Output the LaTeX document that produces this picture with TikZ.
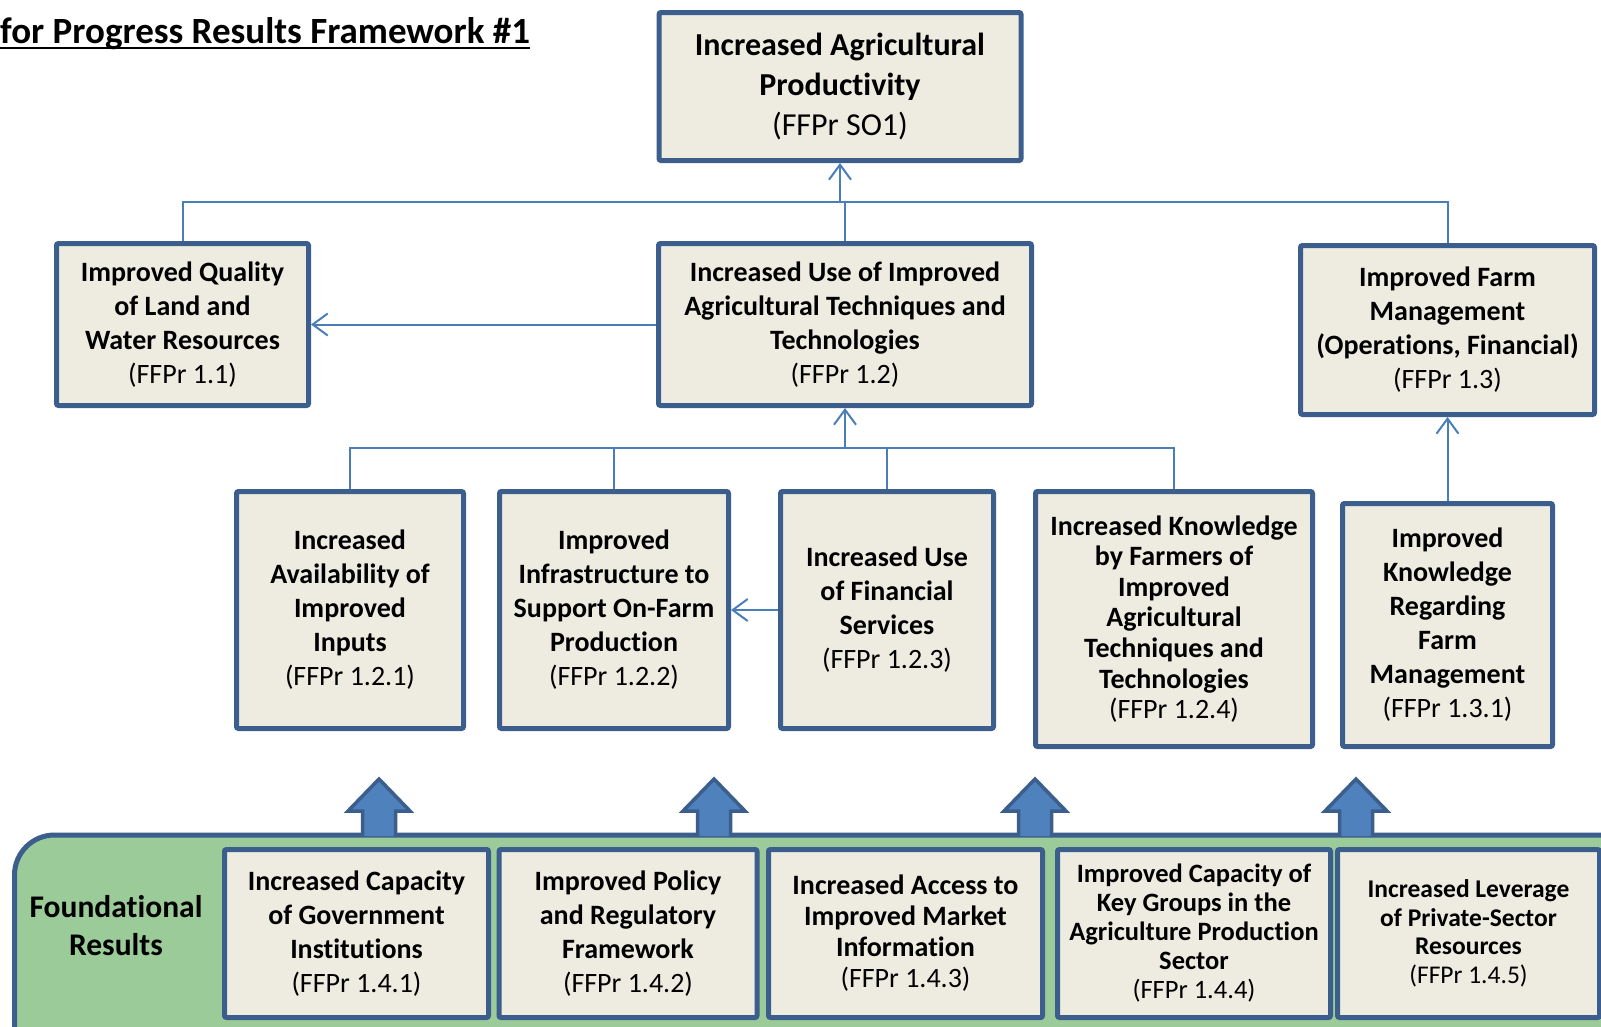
\documentclass[tikz,border=0pt]{standalone}
\usepackage{fontspec}
\setmainfont[Ligatures={NoCommon}]{Carlito}
\usetikzlibrary{arrows.meta}
\definecolor{boxfill}{HTML}{EEECE1}
\definecolor{boxline}{HTML}{3B5E8C}
\definecolor{connc}{HTML}{4A7EBB}
\definecolor{fatfill}{HTML}{4F81BD}
\definecolor{greenfill}{HTML}{9BCB98}
\begin{document}
\begin{tikzpicture}[x=1pt,y=-1pt,
  box/.style={draw=boxline, line width=5pt, fill=boxfill, rounded corners=2pt, inner sep=0pt, align=center, font=\fontsize{28}{34}\selectfont},
  link/.style={draw=connc, line width=2pt},
  arr/.style={link, -{Straight Barb[length=15pt,width=22pt]}},
  fat/.style={draw=boxline, line width=3.5pt, line join=miter}
]
\useasboundingbox (0,0) rectangle (1601,1026);
\clip (0,0) rectangle (1601,1026);

% title
\node[anchor=base west, inner sep=0pt, font=\fontsize{37}{42}\selectfont\bfseries] (title) at (0,43) {for Progress Results Framework \#1};
\draw[line width=2pt] ([yshift=-4.5pt]title.base west) -- ([yshift=-4.5pt]title.base east);

% top level
\node[box, minimum width=362pt, minimum height=148pt, font=\fontsize{32}{40}\selectfont] (so1) at (840,86.5)
  {\textbf{Increased Agricultural}\\\textbf{Productivity}\\(FFPr SO1)};

% second level
\node[box, minimum width=252pt, minimum height=162pt] (b11) at (182.5,324.5)
  {\textbf{Improved Quality}\\\textbf{of Land and}\\\textbf{Water Resources}\\(FFPr 1.1)};
\node[box, minimum width=373pt, minimum height=162pt] (b12) at (845,324.5)
  {\textbf{Increased Use of Improved}\\\textbf{Agricultural Techniques and}\\\textbf{Technologies}\\(FFPr 1.2)};
\node[box, minimum width=294pt, minimum height=169pt] (b13) at (1447.5,330)
  {\textbf{Improved Farm}\\\textbf{Management}\\\textbf{(Operations, Financial)}\\(FFPr 1.3)};

% third level
\node[box, minimum width=227pt, minimum height=237pt] (b121) at (350,610)
  {\textbf{Increased}\\\textbf{Availability of}\\\textbf{Improved}\\\textbf{Inputs}\\(FFPr 1.2.1)};
\node[box, minimum width=229pt, minimum height=237pt] (b122) at (614,610)
  {\textbf{Improved}\\\textbf{Infrastructure to}\\\textbf{Support On-Farm}\\\textbf{Production}\\(FFPr 1.2.2)};
\node[box, minimum width=213pt, minimum height=237pt] (b123) at (887,610)
  {\textbf{Increased Use}\\\textbf{of Financial}\\\textbf{Services}\\(FFPr 1.2.3)};
\node[box, minimum width=277pt, minimum height=255pt, font=\fontsize{28}{30.6}\selectfont] (b124) at (1174,619)
  {\textbf{Increased Knowledge}\\\textbf{by Farmers of}\\\textbf{Improved}\\\textbf{Agricultural}\\\textbf{Techniques and}\\\textbf{Technologies}\\(FFPr 1.2.4)};
\node[box, minimum width=210pt, minimum height=243pt] (b131) at (1447.5,625)
  {\textbf{Improved}\\\textbf{Knowledge}\\\textbf{Regarding}\\\textbf{Farm}\\\textbf{Management}\\(FFPr 1.3.1)};

% connectors
\coordinate (busT) at (840,202);
\draw[link] (b11.north) |- (busT) -| (b13.north);
\draw[link] (b12.north) |- (busT);
\draw[arr] (busT) -- (so1.south);
\draw[arr] (b12.west) -- (b11.east);
\coordinate (busM) at (845,448);
\draw[link] (b121.north) |- (busM) -| (b124.north);
\draw[link] (b122.north) |- (busM);
\draw[link] (b123.north) |- (busM);
\draw[arr] (busM) -- (b12.south);
\draw[arr] (b123.west) -- (b122.east);
\draw[arr] (b131.north) -- (b13.south);

% foundational band
\draw[fill=greenfill, draw=boxline, line width=5pt, rounded corners=40pt] (14.5,835) rectangle (1660,1080);
\node[font=\fontsize{31.5}{38}\selectfont\bfseries, align=center, inner sep=0pt] (flab) at (116,926) {Foundational\\Results};

\node[box, minimum width=264pt, minimum height=168pt] (f1) at (356.5,933.5)
  {\textbf{Increased Capacity}\\\textbf{of Government}\\\textbf{Institutions}\\(FFPr 1.4.1)};
\node[box, minimum width=258pt, minimum height=168pt] (f2) at (628,933.5)
  {\textbf{Improved Policy}\\\textbf{and Regulatory}\\\textbf{Framework}\\(FFPr 1.4.2)};
\node[box, minimum width=274pt, minimum height=168pt, font=\fontsize{28}{31}\selectfont] (f3) at (905.5,933.5)
  {\textbf{Increased Access to}\\\textbf{Improved Market}\\\textbf{Information}\\(FFPr 1.4.3)};
\node[box, minimum width=273pt, minimum height=168pt, font=\fontsize{26.5}{29}\selectfont] (f4) at (1194,933.5)
  {\textbf{Improved Capacity of}\\\textbf{Key Groups in the}\\\textbf{Agriculture Production}\\\textbf{Sector}\\(FFPr 1.4.4)};
\node[box, minimum width=262pt, minimum height=168pt, font=\fontsize{25.5}{28.5}\selectfont] (f5) at (1468.5,933.5)
  {\textbf{Increased Leverage}\\\textbf{of Private-Sector}\\\textbf{Resources}\\(FFPr 1.4.5)};

% block arrows
\foreach \cx in {379,714,1035,1356} {
  \fill[fatfill] (\cx-16.5,836) -- (\cx-16.5,811) -- (\cx-31,811) -- (\cx,779) -- (\cx+31,811) -- (\cx+16.5,811) -- (\cx+16.5,836) -- cycle;
  \draw[fat] (\cx-16.5,836) -- (\cx-16.5,811) -- (\cx-31,811) -- (\cx,779) -- (\cx+31,811) -- (\cx+16.5,811) -- (\cx+16.5,836);
}
\end{tikzpicture}
\end{document}
